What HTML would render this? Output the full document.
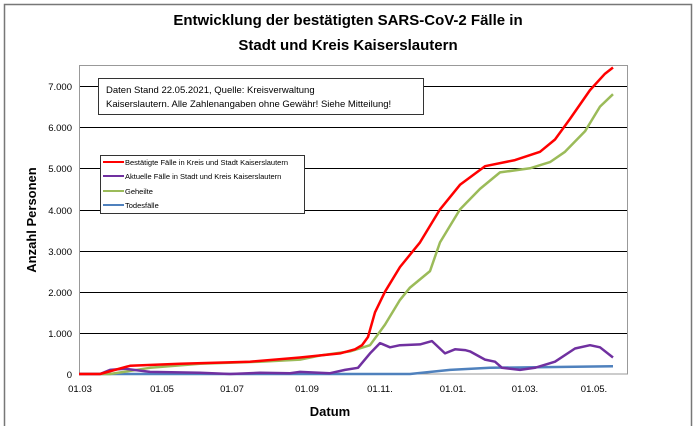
<!DOCTYPE html>
<html><head><meta charset="utf-8"><style>
body{margin:0;background:#fff;width:696px;height:426px;overflow:hidden;font-family:"Liberation Sans",sans-serif}
</style></head><body>
<svg id="s" width="696" height="426" xmlns="http://www.w3.org/2000/svg" font-family="Liberation Sans, sans-serif">
<rect x="0" y="0" width="696" height="426" fill="#fff"/>
<rect x="4.5" y="4.5" width="687" height="430" fill="none" stroke="#777" stroke-width="1.5"/>
<text x="348" y="25" text-anchor="middle" font-size="15" font-weight="bold">Entwicklung der bestätigten SARS-CoV-2 Fälle in</text>
<text x="348" y="50" text-anchor="middle" font-size="15" font-weight="bold">Stadt und Kreis Kaiserslautern</text>
<g stroke="#000" stroke-width="1">
<line x1="79" x2="628" y1="86.5" y2="86.5"/><line x1="79" x2="628" y1="127.5" y2="127.5"/>
<line x1="79" x2="628" y1="168.5" y2="168.5"/><line x1="79" x2="628" y1="210.5" y2="210.5"/>
<line x1="79" x2="628" y1="251.5" y2="251.5"/><line x1="79" x2="628" y1="292.5" y2="292.5"/>
<line x1="79" x2="628" y1="333.5" y2="333.5"/>
</g>
<rect x="79.5" y="65.5" width="548" height="308.5" fill="none" stroke="#999"/>
<g font-size="9.5" text-anchor="end" fill="#000">
<text x="72" y="90">7.000</text><text x="72" y="131">6.000</text><text x="72" y="172">5.000</text>
<text x="72" y="214">4.000</text><text x="72" y="255">3.000</text><text x="72" y="296">2.000</text>
<text x="72" y="337">1.000</text><text x="72" y="378">0</text>
</g>
<g font-size="9.5" text-anchor="middle">
<text x="80" y="392">01.03</text><text x="162" y="392">01.05</text><text x="232" y="392">01.07</text>
<text x="307" y="392">01.09</text><text x="380" y="392">01.11.</text><text x="453" y="392">01.01.</text>
<text x="525" y="392">01.03.</text><text x="594" y="392">01.05.</text>
</g>
<text x="330" y="416" text-anchor="middle" font-size="13" font-weight="bold">Datum</text>
<text transform="translate(36,220) rotate(-90)" text-anchor="middle" font-size="13" font-weight="bold">Anzahl Personen</text>
<g id="lines" fill="none" stroke-width="2.5" stroke-linejoin="round"></g>
<rect x="98.5" y="78.5" width="325" height="36" fill="#fff" stroke="#333"/>
<text x="106" y="93" font-size="9.5">Daten Stand 22.05.2021, Quelle: Kreisverwaltung</text>
<text x="106" y="107" font-size="9.5">Kaiserslautern. Alle Zahlenangaben ohne Gewähr! Siehe Mitteilung!</text>
<rect x="100.5" y="155.5" width="204" height="58" fill="#fff" stroke="#333"/>
<g stroke-width="2"><line x1="103" x2="124" y1="162" y2="162" stroke="#f00"/><line x1="103" x2="124" y1="176" y2="176" stroke="#7030a0"/>
<line x1="103" x2="124" y1="191" y2="191" stroke="#9bbb59"/><line x1="103" x2="124" y1="205" y2="205" stroke="#4f81bd"/></g>
<g font-size="7.5"><text x="125" y="165">Bestätigte Fälle in Kreis und Stadt Kaiserslautern</text>
<text x="125" y="179">Aktuelle Fälle in Stadt und Kreis Kaiserslautern</text>
<text x="125" y="194">Geheilte</text><text x="125" y="208">Todesfälle</text></g>
</svg>
<script>
var D={
"#4f81bd":[[79,0],[410,0],[450,100],[490,150],[613,190]],
"#9bbb59":[[79,0],[110,0],[150,150],[200,250],[260,300],[300,350],[320,450],[350,550],[370,700],[385,1200],[400,1800],[410,2100],[430,2500],[440,3200],[460,4000],[480,4500],[500,4900],[530,5000],[550,5150],[565,5400],[585,5900],[600,6500],[613,6800]],
"#7030a0":[[79,0],[100,0],[110,100],[125,130],[150,50],[200,30],[230,0],[260,30],[290,20],[300,50],[330,20],[345,100],[358,150],[370,500],[380,750],[390,650],[400,700],[420,720],[432,800],[445,500],[455,600],[465,580],[470,550],[485,350],[495,300],[502,150],[520,100],[535,150],[555,300],[575,620],[590,700],[600,650],[613,400]],
"#f00":[[79,0],[100,0],[130,200],[180,250],[250,300],[300,400],[340,500],[355,600],[362,700],[368,900],[375,1500],[385,2000],[400,2600],[420,3200],[440,4000],[460,4600],[485,5050],[515,5200],[540,5400],[555,5700],[570,6200],[590,6900],[605,7300],[613,7450]]};
var g=document.getElementById("lines"),ns="http://www.w3.org/2000/svg";
for(var c in D){var p=document.createElementNS(ns,"polyline");
p.setAttribute("points",D[c].map(function(a){return a[0]+","+(374-a[1]*0.04114).toFixed(1)}).join(" "));
p.setAttribute("stroke",c);g.appendChild(p);}
</script>
</body></html>
